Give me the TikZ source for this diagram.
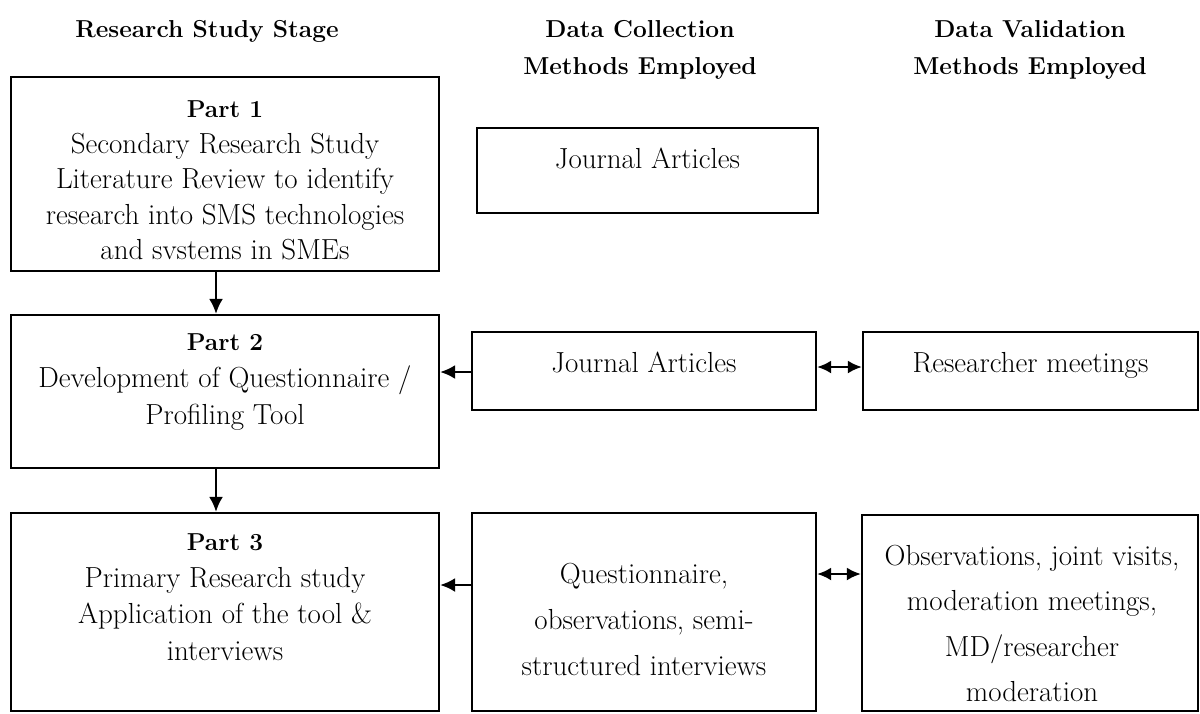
\documentclass[tikz,border=0pt]{standalone}
\usetikzlibrary{arrows.meta,calc}
\newcommand{\partlabel}[1]{{\bfseries\fontsize{24.5}{30}\selectfont #1}}
\begin{document}
\begin{tikzpicture}[x=1pt,y=-1pt,
  box/.style={draw, line width=2.2pt, inner sep=0pt, rectangle},
  txt/.style={anchor=north, inner sep=0pt, align=center, font=\fontsize{29}{35.5}\selectfont},
  hdr/.style={anchor=north, inner sep=0pt, align=center, font=\bfseries\fontsize{24.5}{37}\selectfont},
  arr/.style={line width=2.4pt, -{Latex[length=15pt,width=14pt]}},
  darr/.style={line width=2.4pt, {Latex[length=14pt,width=13pt]}-{Latex[length=14pt,width=13pt]}}
]
\fill[white] (0,0) rectangle (1200,713);
\useasboundingbox (0,0) rectangle (1200,713);

% headers
\node[hdr] (h1) at (207,20) {Research Study Stage};
\node[hdr] (h2) at (640,20) {Data Collection\\Methods Employed};
\node[hdr] (h3) at (1030,20) {Data Validation\\Methods Employed};

% boxes
\node[box, minimum width=428pt, minimum height=194pt] (p1) at (225,174) {};
\node[box, minimum width=428pt, minimum height=153pt] (p2) at (225,391.5) {};
\node[box, minimum width=428pt, minimum height=198pt] (p3) at (225,612) {};
\node[box, minimum width=341pt, minimum height=85pt] (ja1) at (647.5,170.5) {};
\node[box, minimum width=344pt, minimum height=78pt] (ja2) at (644,371) {};
\node[box, minimum width=335pt, minimum height=78pt] (rm) at (1030.5,371) {};
\node[box, minimum width=344pt, minimum height=198pt] (q) at (644,612) {};
\node[box, minimum width=336pt, minimum height=196pt] (obs) at (1030,613) {};

% texts
\node[txt] (p1t) at (225,100.5) {\partlabel{Part 1}\\Secondary Research Study\\Literature Review to identify\\research into SMS technologies\\and svstems in SMEs};
\node[txt, font=\fontsize{29}{37}\selectfont] (p2t) at (225,333.7) {\partlabel{Part 2}\\Development of Questionnaire /\\Profiling Tool};
\node[txt, font=\fontsize{29}{36.5}\selectfont] (p3t) at (225,533.7) {\partlabel{Part 3}\\Primary Research study\\Application of the tool \&\\interviews};
\node[txt] (ja1t) at (647.5,147.5) {Journal Articles};
\node[txt] (ja2t) at (644,351.5) {Journal Articles};
\node[txt] (rmt) at (1030.5,352.5) {Researcher meetings};
\node[txt, font=\fontsize{29}{46}\selectfont] (qt) at (644,563.5) {Questionnaire,\\observations, semi-\\structured interviews};
\node[txt, font=\fontsize{29}{45.3}\selectfont] (obst) at (1032,545.2) {Observations, joint visits,\\moderation meetings,\\MD/researcher\\moderation};

% connector end points
\coordinate (a1s) at ([yshift=-1pt]ja2.west);
\coordinate (a2s) at ([yshift=27pt]q.west);
\coordinate (d1s) at ([yshift=4pt]ja2.east);
\coordinate (d2s) at ([yshift=38pt]q.east);

% connectors
\draw[arr] (p1.south -| 216,0) -- (p2.north -| 216,0);
\draw[arr] (p2.south -| 216,0) -- (p3.north -| 216,0);
\draw[arr] (a1s) -- (p2.east |- a1s);
\draw[arr] (a2s) -- (p3.east |- a2s);
\draw[darr] (d1s) -- (rm.west |- d1s);
\draw[darr] (d2s) -- (obs.west |- d2s);
\end{tikzpicture}
\end{document}
